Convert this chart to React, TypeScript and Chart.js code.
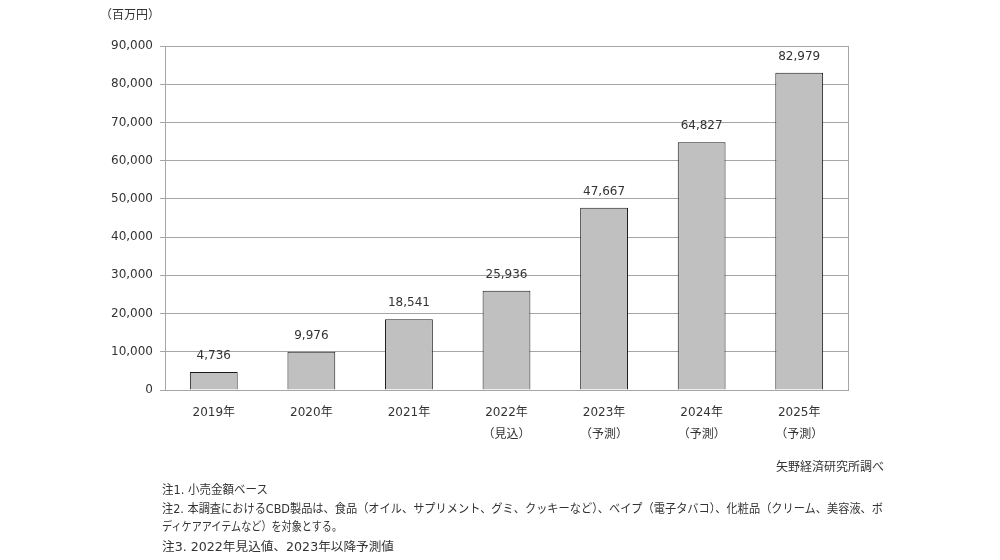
import React, { useEffect, useLayoutEffect, useRef } from "react";
import { Chart, registerables } from "chart.js";

Chart.register(...registerables);

const categories: string[][] = [
  ["2019年"],
  ["2020年"],
  ["2021年"],
  ["2022年", "（見込）"],
  ["2023年", "（予測）"],
  ["2024年", "（予測）"],
  ["2025年", "（予測）"],
];
const values: number[] = [4736, 9976, 18541, 25936, 47667, 64827, 82979];
const yMax = 90000;
const yStep = 10000;
const unitLabel = "（百万円）";
const sourceLabel = "矢野経済研究所調べ";
const notes: string[] = [
  "注1. 小売金額ベース",
  "注2. 本調査におけるCBD製品は、食品（オイル、サプリメント、グミ、クッキーなど）、ベイプ（電子タバコ）、化粧品（クリーム、美容液、ボ",
  "ディケアアイテムなど）を対象とする。",
  "注3. 2022年見込値、2023年以降予測値",
];

const numFont = "'DejaVu Sans', Verdana, sans-serif";
const mixFont = "'DejaVu Sans', 'Noto Sans CJK JP', sans-serif";
const jpFont = "'Noto Sans CJK JP', 'DejaVu Sans', sans-serif";
const textColor = "#333333";

const fmt = (v: number) => v.toLocaleString("en-US");

const decorPlugin = {
  id: "decor",
  afterDatasetsDraw(chart: any) {
    const { ctx, chartArea } = chart;
    ctx.save();
    ctx.strokeStyle = "#a6a6a6";
    ctx.lineWidth = 1;
    ctx.beginPath();
    ctx.moveTo(Math.round(chartArea.right) + 0.5, chartArea.top);
    ctx.lineTo(Math.round(chartArea.right) + 0.5, chartArea.bottom);
    ctx.stroke();
    const meta = chart.getDatasetMeta(0);
    ctx.fillStyle = textColor;
    ctx.font = `12px ${numFont}`;
    ctx.textAlign = "center";
    ctx.textBaseline = "middle";
    meta.data.forEach((bar: any, i: number) => {
      ctx.fillText(fmt(values[i]), bar.x, bar.y - 16);
    });
    ctx.restore();
  },
};

export default function App() {
  const ref = useRef<HTMLCanvasElement | null>(null);
  const noteRefs = useRef<(HTMLDivElement | null)[]>([]);
  const noteWidths = [106, 721, 180, 232];

  useLayoutEffect(() => {
    noteRefs.current.forEach((el, i) => {
      if (!el) return;
      el.style.transform = "none";
      const w = el.getBoundingClientRect().width;
      if (w > 0) el.style.transform = `scaleX(${noteWidths[i] / w})`;
    });
  }, []);

  useEffect(() => {
    if (!ref.current) return;
    const chart = new Chart(ref.current, {
      type: "bar",
      data: {
        labels: categories,
        datasets: [
          {
            data: values,
            backgroundColor: "#c0c0c0",
            borderColor: "#1a1a1a",
            borderWidth: 1,
            categoryPercentage: 1,
            barPercentage: 0.49,
          },
        ],
      },
      options: {
        responsive: false,
        animation: false,
        maintainAspectRatio: false,
        layout: { padding: { top: 46, right: 152, left: 0, bottom: 0 } },
        plugins: {
          legend: { display: false },
          tooltip: { enabled: false },
        },
        scales: {
          x: {
            grid: { display: false },
            border: { color: "#a6a6a6" },
            ticks: {
              color: textColor,
              font: { family: mixFont, size: 12, lineHeight: 1.9 },
              padding: 3,
              maxRotation: 0,
            },
            afterFit(scale: any) {
              scale.height = 170;
            },
          },
          y: {
            min: 0,
            max: yMax,
            grid: { color: "#a6a6a6", tickLength: 5, tickColor: "#a6a6a6" },
            border: { color: "#a6a6a6" },
            ticks: {
              stepSize: yStep,
              color: textColor,
              font: { family: numFont, size: 12 },
              padding: 7,
              callback: (v: any) => fmt(Number(v)),
            },
            afterFit(scale: any) {
              scale.width = 165;
            },
          },
        },
      },
      plugins: [decorPlugin],
    });
    return () => chart.destroy();
  }, []);

  const noteTops = [481, 500, 518, 538];
  return (
    <div
      style={{
        position: "fixed",
        left: 0,
        top: 0,
        width: 1000,
        height: 560,
        background: "#ffffff",
        overflow: "hidden",
      }}
    >
      <canvas ref={ref} width={1000} height={560} style={{ position: "absolute", left: 0, top: 0 }} />
      <div
        style={{
          position: "absolute",
          left: 100,
          top: 5,
          fontFamily: jpFont,
          fontSize: 12,
          color: textColor,
          whiteSpace: "nowrap",
        }}
      >
        {unitLabel}
      </div>
      <div
        style={{
          position: "absolute",
          right: 1000 - 884,
          top: 457,
          fontFamily: jpFont,
          fontSize: 12,
          color: textColor,
          whiteSpace: "nowrap",
        }}
      >
        {sourceLabel}
      </div>
      {notes.map((n, i) => (
        <div
          key={i}
          ref={(el) => {
            noteRefs.current[i] = el;
          }}
          style={{
            position: "absolute",
            left: 162,
            top: noteTops[i],
            fontFamily: mixFont,
            fontSize: 12,
            color: textColor,
            whiteSpace: "nowrap",
            lineHeight: "18px",
            transformOrigin: "left center",
          }}
        >
          {n}
        </div>
      ))}
    </div>
  );
}
